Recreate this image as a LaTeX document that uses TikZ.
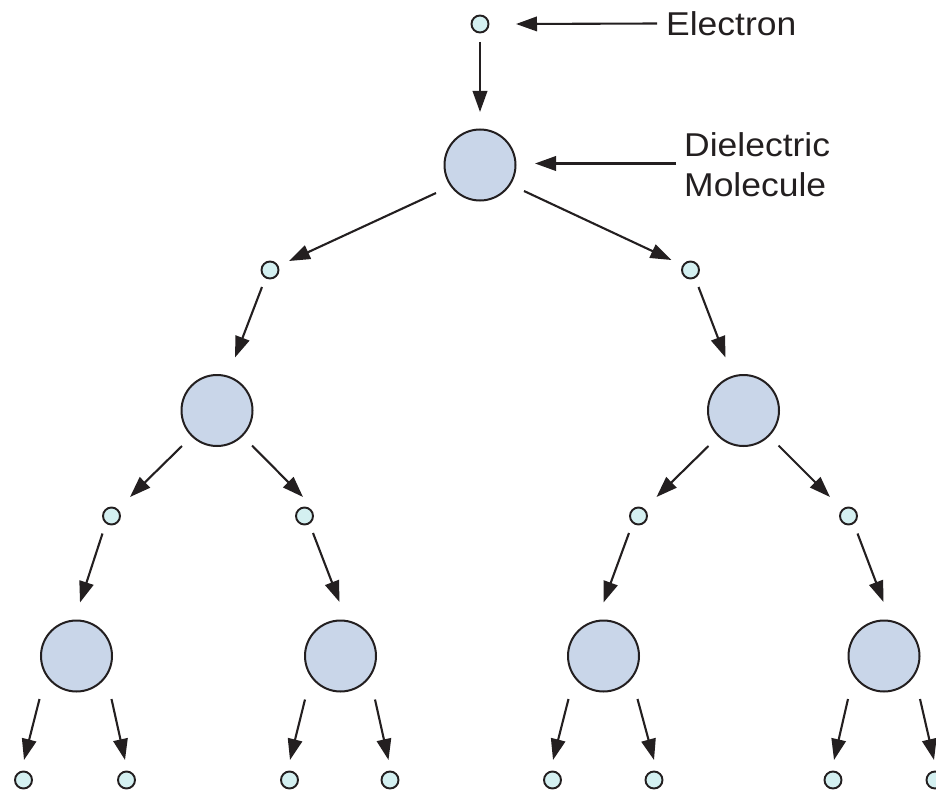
\documentclass[tikz,border=0pt]{standalone}
\usepackage{fontspec}
\setmainfont{Liberation Sans}
\newfontfamily\lblfont[FakeStretch=1.075]{Liberation Sans}
\usetikzlibrary{arrows.meta,calc}
\definecolor{ink}{RGB}{35,31,32}
\definecolor{molfill}{RGB}{201,214,233}
\definecolor{elfill}{RGB}{212,240,241}
\begin{document}
\begin{tikzpicture}[x=1bp,y=-1bp,
  molecule/.style={circle,draw=ink,fill=molfill,line width=2bp,minimum size=71bp,inner sep=0pt},
  electron/.style={circle,draw=ink,fill=elfill,line width=1.9bp,minimum size=17bp,inner sep=0pt},
  arr/.style={draw=ink,line width=2.1bp,-{Triangle[length=21bp,width=14.5bp]}},
  lbl/.style={anchor=west,inner sep=0pt,text=ink,align=left,font=\lblfont\fontsize{33bp}{40bp}\selectfont}]
\useasboundingbox (0,0) rectangle (936,793);

% nodes
\node[electron] (e0) at (480,24) {};
\node[molecule] (m0) at (480,165) {};
\node[electron] (e1a) at (270,270) {};
\node[electron] (e1b) at (690.5,270) {};
\node[molecule] (m1a) at (217,410.5) {};
\node[molecule] (m1b) at (743.5,410.5) {};
\node[electron] (e2a) at (111.5,516) {};
\node[electron] (e2b) at (304.5,516) {};
\node[electron] (e2c) at (638.5,516) {};
\node[electron] (e2d) at (848.5,516) {};
\node[molecule] (m2a) at (76.5,656) {};
\node[molecule] (m2b) at (340.5,656) {};
\node[molecule] (m2c) at (603.5,656) {};
\node[molecule] (m2d) at (884,656) {};
\node[electron] (e3a) at (23.5,780) {};
\node[electron] (e3b) at (126.5,780) {};
\node[electron] (e3c) at (289.5,780) {};
\node[electron] (e3d) at (390,780) {};
\node[electron] (e3e) at (552.5,780) {};
\node[electron] (e3f) at (654,780) {};
\node[electron] (e3g) at (833,780) {};
\node[electron] (e3h) at (935,780) {};

% labels
\node[lbl] (lel) at (666,23.5) {Electron};
\node[lbl] (lmol) at (684,165) {Dielectric\\Molecule};
\draw[arr] ($(lel.west)+(-9,0)$) -- ($(e0)+(36,0)$);
\draw[arr] ($(lmol.west)+(-8,-1.5)$) -- ($(m0)+(55,-1.5)$);

% level 0 -> 1
\draw[arr] ($(e0)+(0,18)$) -- ($(m0)+(0,-53)$);
\draw[arr] ($(m0)+(-44,28)$) -- ($(e1a)+(19,-9)$);
\draw[arr] ($(m0)+(44,26)$) -- ($(e1b)+(-19,-10)$);
\draw[arr] ($(e1a)+(-8,17)$) -- ($(m1a)+(18,-53)$);
\draw[arr] ($(e1b)+(8,17)$) -- ($(m1b)+(-18,-53)$);

% level 1 -> 2
\draw[arr] ($(m1a)+(-35,35.5)$) -- ($(e2a)+(18.5,-19)$);
\draw[arr] ($(m1a)+(35,35)$) -- ($(e2b)+(-1.5,-19)$);
\draw[arr] ($(m1b)+(-35,35.5)$) -- ($(e2c)+(18,-19)$);
\draw[arr] ($(m1b)+(35,35)$) -- ($(e2d)+(-18.5,-19)$);
\draw[arr] ($(e2a)+(-9,17.5)$) -- ($(m2a)+(3.5,-53.5)$);
\draw[arr] ($(e2b)+(8.5,17)$) -- ($(m2b)+(-1,-54)$);
\draw[arr] ($(e2c)+(-9.5,17)$) -- ($(m2c)+(0,-53.5)$);
\draw[arr] ($(e2d)+(9,17.5)$) -- ($(m2d)+(-0.5,-54)$);

% level 2 -> 3
\draw[arr] ($(m2a)+(-37,43)$) -- ($(e3a)+(0.5,-20)$);
\draw[arr] ($(m2a)+(35,43)$) -- ($(e3b)+(-1.5,-20)$);
\draw[arr] ($(m2b)+(-35.5,43.5)$) -- ($(e3c)+(0.5,-20)$);
\draw[arr] ($(m2b)+(34.5,43.5)$) -- ($(e3d)+(-1.5,-20)$);
\draw[arr] ($(m2c)+(-35,43)$) -- ($(e3e)+(0.5,-20)$);
\draw[arr] ($(m2c)+(34,43)$) -- ($(e3f)+(0,-20)$);
\draw[arr] ($(m2d)+(-36,43)$) -- ($(e3g)+(1,-20)$);
\draw[arr] ($(m2d)+(36,43)$) -- ($(e3h)+(-1,-20)$);
\end{tikzpicture}
\end{document}
